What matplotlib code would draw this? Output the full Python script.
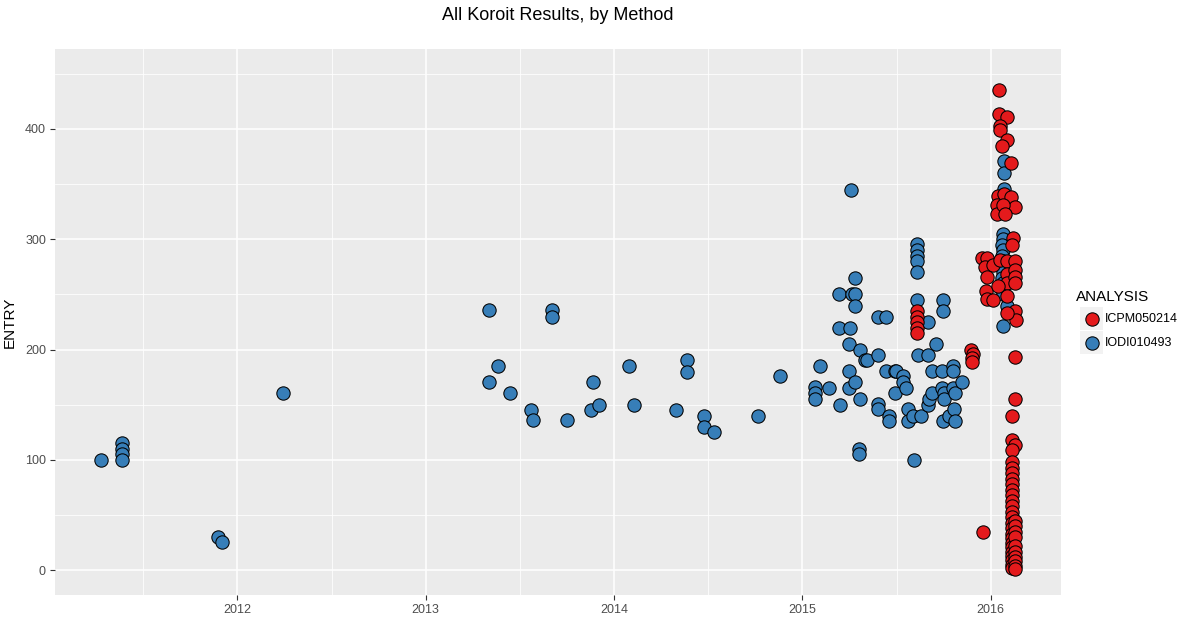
import matplotlib
matplotlib.use("Agg")
import matplotlib.pyplot as plt
from matplotlib.patches import Rectangle
from matplotlib.lines import Line2D

# ---------------- data ----------------
series_names = ["ICPM050214", "IODI010493"]
series_colors = ["#E41A1C", "#377EB8"]

iodi_x = [2011.276,
          2011.387, 2011.387, 2011.387, 2011.387,
          2011.897, 2011.919,
          2012.243,
          2013.336, 2013.336, 2013.384, 2013.448, 2013.559, 2013.570,
          2013.671, 2013.671, 2013.751, 2013.878, 2013.889, 2013.921,
          2014.080, 2014.107, 2014.330, 2014.388, 2014.388, 2014.478,
          2014.478, 2014.532, 2014.765, 2014.882,
          2015.065, 2015.065, 2015.065, 2015.092, 2015.140, 2015.193,
          2015.193, 2015.198, 2015.245, 2015.245, 2015.245, 2015.252,
          2015.257, 2015.265, 2015.280, 2015.280, 2015.280, 2015.280,
          2015.305, 2015.305, 2015.334, 2015.345, 2015.299, 2015.299,
          2015.400, 2015.400, 2015.400, 2015.400, 2015.443, 2015.443,
          2015.460, 2015.460, 2015.492, 2015.492, 2015.497, 2015.533,
          2015.533, 2015.550, 2015.559, 2015.559, 2015.586, 2015.593,
          2015.610, 2015.610, 2015.610, 2015.610, 2015.610, 2015.610,
          2015.616, 2015.630, 2015.666, 2015.666, 2015.666, 2015.674,
          2015.687, 2015.687, 2015.708, 2015.740, 2015.740, 2015.745,
          2015.748, 2015.748, 2015.754, 2015.754, 2015.780, 2015.798,
          2015.798, 2015.801, 2015.807, 2015.810, 2015.810, 2015.846,
          2016.072, 2016.072, 2016.072,
          2016.065, 2016.065, 2016.060, 2016.065, 2016.060, 2016.065,
          2016.060, 2016.065, 2016.060, 2016.065, 2016.060, 2016.065,
          2016.085, 2016.065]
iodi_y = [100,
          115, 110, 105, 100,
          30, 26,
          161,
          236, 171, 185, 161, 145, 136,
          236, 230, 136, 145, 171, 150,
          185, 150, 145, 191, 180, 140,
          130, 125, 140, 176,
          166, 161, 155, 185, 165, 250,
          220, 150, 205, 181, 165, 220,
          345, 250, 265, 250, 240, 171,
          200, 155, 191, 191, 110, 105,
          230, 195, 151, 146, 230, 181,
          140, 135, 181, 161, 181, 176,
          171, 165, 146, 135, 140, 100,
          296, 290, 285, 280, 270, 245,
          195, 140, 225, 195, 150, 155,
          161, 181, 205, 181, 165, 135,
          245, 235, 161, 155, 140, 185,
          181, 165, 146, 161, 135, 171,
          371, 360, 346,
          305, 300, 295, 290, 285, 280,
          275, 270, 265, 260, 255, 250,
          240, 221]

icpm_x = [2015.610, 2015.610, 2015.610, 2015.610, 2015.610,
          2015.894, 2015.905, 2015.900, 2015.900,
          2015.959,
          2016.042, 2016.045, 2016.085, 2016.049, 2016.049, 2016.085,
          2016.062, 2016.106, 2016.040, 2016.072, 2016.106, 2016.129,
          2016.032, 2016.032, 2016.067, 2016.076, 2016.117, 2016.112,
          2015.952, 2015.979, 2015.970, 2016.014, 2015.979, 2015.975,
          2015.979, 2016.014, 2016.049,
          2016.085, 2016.085, 2016.085, 2016.085,
          2016.129, 2016.129, 2016.129, 2016.129,
          2016.040, 2016.129, 2016.134, 2016.085,
          2016.127, 2016.127, 2016.112, 2016.112, 2016.129, 2016.112,
          2016.112, 2016.112, 2016.112, 2016.112, 2016.112, 2016.112,
          2016.112, 2016.112, 2016.112, 2016.112, 2016.112, 2016.112,
          2016.112, 2016.112, 2016.112, 2016.112, 2016.112, 2016.112,
          2016.112, 2016.112, 2016.112, 2016.112,
          2016.129, 2016.129, 2016.129, 2016.129, 2016.129, 2016.129,
          2016.129, 2016.129, 2016.129, 2016.129]
icpm_y = [235, 230, 225, 220, 215,
          200, 196, 192, 189,
          35,
          435, 414, 411, 403, 399, 390,
          385, 369, 339, 341, 338, 329,
          331, 323, 331, 323, 301, 295,
          283, 283, 275, 277, 266, 253,
          246, 245, 281,
          280, 269, 260, 249,
          280, 272, 266, 260,
          258, 235, 227, 233,
          193, 155, 140, 118, 114, 109,
          98, 93, 88, 83, 78, 73,
          68, 63, 58, 53, 48, 43,
          38, 33, 29, 25, 21, 17,
          13, 9, 5, 2,
          45, 40, 35, 30, 22, 17,
          12, 8, 4, 1]

x_ticks = [2012, 2013, 2014, 2015, 2016]
x_minor = [2011.5, 2012.5, 2013.5, 2014.5, 2015.5]
y_ticks = [0, 100, 200, 300, 400]
y_minor = [50, 150, 250, 350, 450]

title = "All Koroit Results, by Method"
y_label = "ENTRY"
legend_title = "ANALYSIS"

# ---------------- figure ----------------
plt.rcParams['font.family'] = ['Liberation Sans', 'DejaVu Sans']
W, H = 1200, 640
fig = plt.figure(figsize=(W / 100, H / 100), dpi=100)
fig.patch.set_facecolor("white")

L, R, T, B = 55, 1061, 49, 594.7
ax = fig.add_axes([L / W, 1 - B / H, (R - L) / W, (B - T) / H])
ax.set_facecolor("#EBEBEB")
for s in ax.spines.values():
    s.set_visible(False)

ax.set_xlim(2011.032, 2016.373)
ax.set_ylim(-22.1, 472.5)

ax.set_xticks(x_ticks)
ax.set_xticklabels([str(v) for v in x_ticks])
ax.set_xticks(x_minor, minor=True)
ax.set_yticks(y_ticks)
ax.set_yticklabels([str(v) for v in y_ticks])
ax.set_yticks(y_minor, minor=True)

ax.grid(which="major", color="white", linewidth=1.1)
ax.grid(which="minor", color="white", linewidth=0.55)
ax.set_axisbelow(True)

ax.tick_params(which="major", length=3.5, width=0.8, color="#333333",
               labelcolor="#4D4D4D", labelsize=9, pad=3)
ax.tick_params(which="minor", length=0)

ax.scatter(iodi_x, iodi_y, s=92, c=series_colors[1], edgecolors="black",
           linewidths=0.75, zorder=3)
ax.scatter(icpm_x, icpm_y, s=92, c=series_colors[0], edgecolors="black",
           linewidths=0.75, zorder=4)

ax.set_ylabel(y_label, fontsize=11, color="black", labelpad=6)
fig.text((L + R) / 2 / W, 1 - 16 / H, title, ha="center", va="center",
         fontsize=13, color="black")

# ---------------- legend ----------------
fig.text(1076 / W, 1 - 297 / H, legend_title, ha="left", va="center",
         fontsize=11, color="black")
key_tops = [307, 331]
for i, (name, col) in enumerate(zip(series_names, series_colors)):
    top = key_tops[i]
    fig.add_artist(Rectangle((1080 / W, 1 - (top + 23) / H), 23 / W, 23 / H,
                             transform=fig.transFigure, facecolor="#F2F2F2",
                             edgecolor="none"))
    fig.add_artist(Line2D([1091.5 / W], [1 - (top + 11.5) / H],
                          transform=fig.transFigure, marker="o",
                          markersize=9.6, markerfacecolor=col,
                          markeredgecolor="black", markeredgewidth=0.75,
                          linestyle="none"))
    fig.text(1105 / W, 1 - (top + 11.5) / H, name, ha="left", va="center",
             fontsize=9, color="black")

fig.savefig("out.png", dpi=100)
